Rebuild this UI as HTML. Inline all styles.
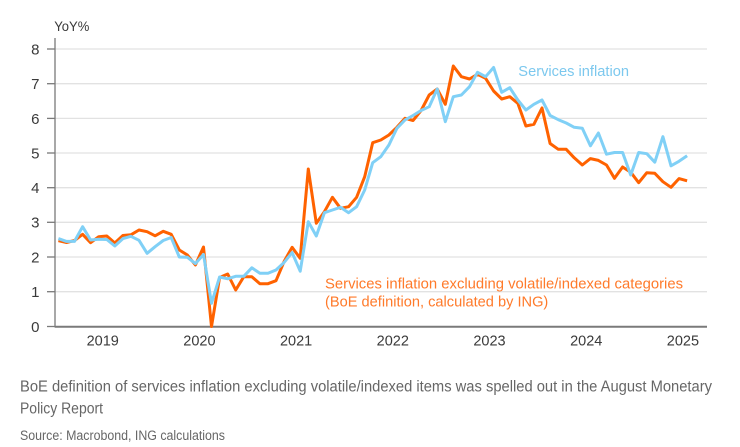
<!DOCTYPE html>
<html><head><meta charset="utf-8"><style>
html,body{margin:0;padding:0;background:#fff;}
svg{display:block;}
text{font-family:"Liberation Sans",sans-serif;}
</style></head><body>
<svg width="740" height="447" viewBox="0 0 740 447" xmlns="http://www.w3.org/2000/svg">
<g stroke="#e2e2e2" stroke-width="1.3">
<line x1="55" y1="49" x2="707" y2="49"/>
<line x1="55" y1="83.7" x2="707" y2="83.7"/>
<line x1="55" y1="118.4" x2="707" y2="118.4"/>
<line x1="55" y1="153" x2="707" y2="153"/>
<line x1="55" y1="187.7" x2="707" y2="187.7"/>
<line x1="55" y1="222.3" x2="707" y2="222.3"/>
<line x1="55" y1="257" x2="707" y2="257"/>
<line x1="55" y1="291.7" x2="707" y2="291.7"/>
</g>
<g stroke="#7a7a7a" stroke-width="1.3">
<line x1="47" y1="49" x2="55" y2="49"/>
<line x1="47" y1="83.7" x2="55" y2="83.7"/>
<line x1="47" y1="118.4" x2="55" y2="118.4"/>
<line x1="47" y1="153" x2="55" y2="153"/>
<line x1="47" y1="187.7" x2="55" y2="187.7"/>
<line x1="47" y1="222.3" x2="55" y2="222.3"/>
<line x1="47" y1="257" x2="55" y2="257"/>
<line x1="47" y1="291.7" x2="55" y2="291.7"/>
<line x1="47" y1="326.5" x2="55" y2="326.5"/>
<line x1="55" y1="38" x2="55" y2="327.5"/>
</g>
<line x1="55" y1="326.8" x2="707" y2="326.8" stroke="#7a7a7a" stroke-width="2"/>
<g fill="#3a3a3a" font-size="15" text-anchor="end">
<text x="39.5" y="54.4">8</text>
<text x="39.5" y="89.1">7</text>
<text x="39.5" y="123.8">6</text>
<text x="39.5" y="158.4">5</text>
<text x="39.5" y="193.1">4</text>
<text x="39.5" y="227.7">3</text>
<text x="39.5" y="262.4">2</text>
<text x="39.5" y="297.1">1</text>
<text x="39.5" y="331.8">0</text>
</g>
<text x="54.3" y="31" font-size="14" fill="#3a3a3a" textLength="35" lengthAdjust="spacingAndGlyphs">YoY%</text>
<g fill="#3a3a3a" font-size="14.5" text-anchor="middle">
<text x="102.7" y="345.5">2019</text>
<text x="199.4" y="345.5">2020</text>
<text x="296.1" y="345.5">2021</text>
<text x="392.8" y="345.5">2022</text>
<text x="489.5" y="345.5">2023</text>
<text x="586.2" y="345.5">2024</text>
<text x="682.9" y="345.5">2025</text>
</g>
<polyline fill="none" stroke="#FF6200" stroke-width="3" stroke-linejoin="round" points="58.4,240.7 66.5,242.5 74.5,240.5 82.6,234.3 90.6,242.7 98.7,236.7 106.8,236 114.8,243 122.9,235.5 130.9,234.8 139,230 147.1,231.7 155.1,235.8 163.2,231.3 171.2,234.3 179.3,250 187.4,255 195.4,265 203.5,247 211.5,326.5 219.6,277.5 227.7,274 235.7,290 243.8,276.7 251.8,276.7 259.9,283.7 268,283.7 276,280.7 284.1,261.5 292.1,247.3 300.2,258.3 308.3,169 316.3,223.3 324.4,211.7 332.4,197.3 340.5,208.3 348.6,206.7 356.6,197.3 364.7,176.7 372.7,142.7 380.8,140 388.9,135 396.9,127.3 405,118.3 413,120.5 421.1,110.5 429.2,95 437.2,89 445.3,104.3 453.3,66 461.4,76.7 469.5,79 477.5,74.3 485.6,78.3 493.6,91 501.7,99 509.8,96.7 517.8,103.3 525.9,126 533.9,124.3 542,108 550.1,143.5 558.1,149.2 566.2,149.3 574.2,157.8 582.3,165 590.4,158.6 598.4,160.4 606.5,165 614.5,178.3 622.6,167 630.7,172.2 638.7,182.7 646.8,172.7 654.8,173.3 662.9,181.7 671,187.3 679,178.6 687.1,180.8"/>
<polyline fill="none" stroke="#80D0F6" stroke-width="3" stroke-linejoin="round" points="58.4,238.6 66.5,241.4 74.5,241.4 82.6,226.7 90.6,240 98.7,239.2 106.8,239.5 114.8,246 122.9,238.6 130.9,236.3 139,240.3 147.1,253.3 155.1,246.7 163.2,240.5 171.2,237.5 179.3,257 187.4,257.3 195.4,263.6 203.5,254.5 211.5,303.3 219.6,277 227.7,278.8 235.7,276.3 243.8,276.3 251.8,267.8 259.9,273.3 268,273.3 276,270 284.1,262.5 292.1,252.5 300.2,271.2 308.3,221.7 316.3,236 324.4,212.7 332.4,210 340.5,207.3 348.6,212.7 356.6,206.7 364.7,190 372.7,162.7 380.8,156.7 388.9,145 396.9,128.3 405,120 413,115.5 421.1,110.5 429.2,106.7 437.2,89 445.3,121.7 453.3,96.7 461.4,95 469.5,86.7 477.5,72.3 485.6,76.7 493.6,67.5 501.7,92.3 509.8,87.7 517.8,100 525.9,110 533.9,104.3 542,100 550.1,115.5 558.1,119.6 566.2,123 574.2,127.3 582.3,128.3 590.4,145.8 598.4,133 606.5,154.2 614.5,152.5 622.6,152.5 630.7,175 638.7,152.5 646.8,153.7 654.8,162.2 662.9,136.7 671,165.8 679,161.3 687.1,155.8"/>
<text x="518.3" y="76" font-size="14.5" fill="#7CC8EE" textLength="110.7" lengthAdjust="spacingAndGlyphs">Services inflation</text>
<text x="325" y="288.3" font-size="14.5" fill="#FF7A2A" textLength="358" lengthAdjust="spacingAndGlyphs">Services inflation excluding volatile/indexed categories</text>
<text x="325" y="306.6" font-size="14.5" fill="#FF7A2A" textLength="223.3" lengthAdjust="spacingAndGlyphs">(BoE definition, calculated by ING)</text>
<text x="20" y="391.5" font-size="15.5" fill="#666" textLength="692" lengthAdjust="spacingAndGlyphs">BoE definition of services inflation excluding volatile/indexed items was spelled out in the August Monetary</text>
<text x="20" y="413.5" font-size="15.5" fill="#666" textLength="83" lengthAdjust="spacingAndGlyphs">Policy Report</text>
<text x="20" y="440" font-size="13.5" fill="#666" textLength="205" lengthAdjust="spacingAndGlyphs">Source: Macrobond, ING calculations</text>
</svg>
</body></html>
